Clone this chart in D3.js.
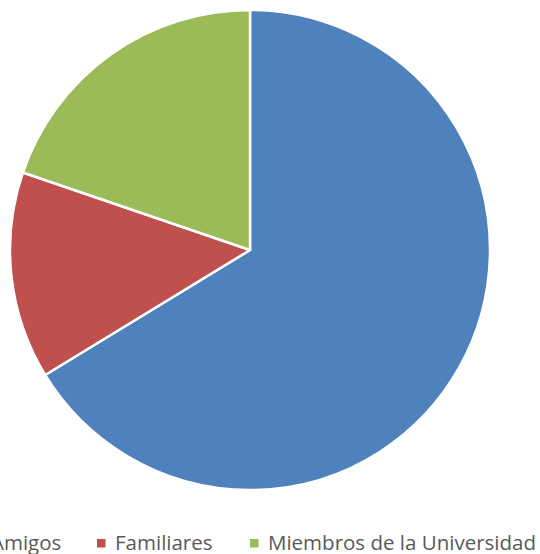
<!DOCTYPE html>
<html>
<head>
<meta charset="utf-8">
<script src="https://cdn.jsdelivr.net/npm/d3@7"></script>
<style>
  body { margin: 0; background: #fff; overflow: hidden; }
  svg { display: block; }
</style>
</head>
<body>
<svg id="chart"></svg>
<script>
var categories = ["Amigos", "Familiares", "Miembros de la Universidad"];
var values = [57, 12, 17];
var colors = ["#4F81BD", "#C0504D", "#9BBB59"];

var width = 540, height = 554;
var cx = 250, cy = 250, radius = 240;

var svg = d3.select("#chart")
    .attr("width", width)
    .attr("height", height);

var data = categories.map(function(c, i) { return {name: c, value: values[i], color: colors[i]}; });

var pie = d3.pie()
    .sort(null)
    .value(function(d) { return d.value; });

var arc = d3.arc()
    .innerRadius(0)
    .outerRadius(radius);

var g = svg.append("g")
    .attr("transform", "translate(" + cx + "," + cy + ")");

g.selectAll("path")
    .data(pie(data))
    .enter().append("path")
    .attr("d", arc)
    .attr("fill", function(d) { return d.color || d.data.color; })
    .attr("stroke", "#fff")
    .attr("stroke-width", 2.5)
    .attr("stroke-linejoin", "round");

// legend (first entry is cut off at the left edge, like the original)
var legendX = [-27, 97, 250];
var legend = svg.append("g");

var item = legend.selectAll("g")
    .data(data)
    .enter().append("g")
    .attr("transform", function(d, i) { return "translate(" + legendX[i] + ",539)"; });

item.append("rect")
    .attr("width", 8.5)
    .attr("height", 8.5)
    .attr("fill", function(d) { return d.color; });

item.append("text")
    .attr("x", 18)
    .attr("y", 10.5)
    .attr("fill", "#595959")
    .style("font-family", "'Open Sans', sans-serif")
    .style("font-size", "20.5px")
    .text(function(d) { return d.name; });
</script>
</body>
</html>
